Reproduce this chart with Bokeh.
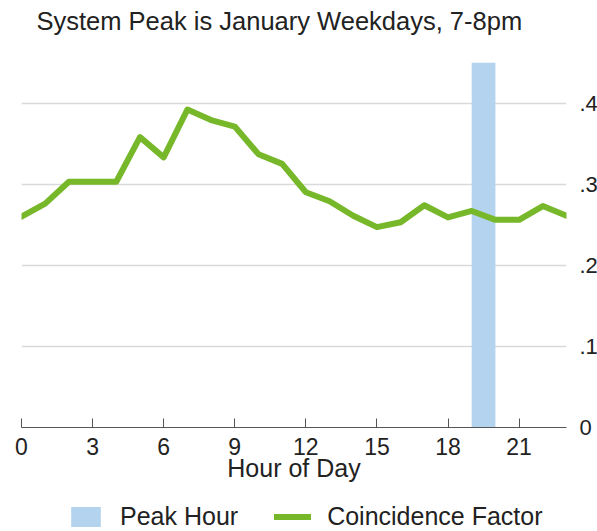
from bokeh.plotting import figure
from bokeh.models import FixedTicker, Legend, LegendItem, Range1d, Label
from bokeh.layouts import column
from bokeh.embed import file_html
from bokeh.resources import INLINE

# ---- data ----
hours = list(range(24))
coincidence = [0.260, 0.276, 0.303, 0.303, 0.303, 0.358, 0.333, 0.392,
               0.379, 0.371, 0.337, 0.325, 0.290, 0.279, 0.261, 0.247,
               0.253, 0.274, 0.259, 0.267, 0.256, 0.256, 0.273, 0.261]
peak_start = [19]
peak_end = [20]
peak_bottom = [0]
peak_top = [0.45]
x_ticks = [0, 3, 6, 9, 12, 15, 18, 21]
y_ticks = [0, 0.1, 0.2, 0.3, 0.4]
y_tick_labels = ["0", ".1", ".2", ".3", ".4"]
grid_ticks = [0.1, 0.2, 0.3, 0.4]
title_text = "System Peak is January Weekdays, 7-8pm"
x_label = "Hour of Day"
series_names = ["Peak Hour", "Coincidence Factor"]

FONT = "Liberation Sans"
TEXT = "#222222"
GREEN = "#76B82A"
BLUE = "#B3D3EE"
W = 592

# ---- title strip ----
tf = figure(width=W, height=62, x_range=Range1d(0, 1), y_range=Range1d(0, 1),
            x_axis_location=None, y_axis_location=None, output_backend="svg",
            toolbar_location=None, min_border=0)
tf.outline_line_color = None
tf.grid.visible = False
tf.add_layout(Label(x=15, y=42, x_units="screen", y_units="screen", text=title_text,
                    text_font=FONT, text_font_size="25.5px", text_color=TEXT,
                    text_baseline="alphabetic", text_align="left"))

# ---- main chart ----
p = figure(frame_width=545, frame_height=365, x_range=Range1d(0, 23), y_range=Range1d(0, 0.45),
           y_axis_location="right", output_backend="svg", toolbar_location=None,
           min_border_left=21, min_border_right=0, min_border_top=0, min_border_bottom=57)
p.outline_line_color = None

xa = p.xaxis[0]
xa.ticker = FixedTicker(ticks=x_ticks)
xa.major_tick_in = 9
xa.major_tick_out = 0
xa.minor_tick_line_color = None
xa.axis_line_color = "#555555"
xa.major_tick_line_color = "#555555"
xa.major_label_text_font = FONT
xa.major_label_text_font_size = "23px"
xa.major_label_text_color = TEXT
xa.major_label_standoff = 10
xa.axis_label = x_label
xa.axis_label_text_font = FONT
xa.axis_label_text_font_size = "25px"
xa.axis_label_text_font_style = "normal"
xa.axis_label_text_color = TEXT
xa.axis_label_standoff = -4

ya = p.yaxis[0]
ya.ticker = FixedTicker(ticks=y_ticks)
ya.major_label_overrides = dict(zip(y_ticks, y_tick_labels))
ya.axis_line_color = None
ya.major_tick_line_color = None
ya.minor_tick_line_color = None
ya.major_label_text_font = FONT
ya.major_label_text_font_size = "22px"
ya.major_label_text_color = TEXT
ya.major_label_standoff = 7

p.xgrid.visible = False
p.ygrid.ticker = FixedTicker(ticks=grid_ticks)
p.ygrid.grid_line_color = "#d9d9d9"
p.ygrid.grid_line_width = 1.5

p.quad(left=peak_start, right=peak_end, bottom=peak_bottom, top=peak_top,
       fill_color=BLUE, line_color=None)
p.line(hours, coincidence, line_color=GREEN, line_width=6,
       line_join="round", line_cap="round")

# ---- legend strip (same series, kept out of its view; only the legend shows) ----
lf = figure(width=W, height=47, x_range=Range1d(100, 101), y_range=Range1d(100, 101),
            x_axis_location=None, y_axis_location=None, output_backend="svg",
            toolbar_location=None, min_border=0)
lf.outline_line_color = None
lf.grid.visible = False
lg_bar = lf.quad(left=peak_start, right=peak_end, bottom=peak_bottom, top=peak_top,
                 fill_color=BLUE, line_color=None)
lg_line = lf.line(hours, coincidence, line_color=GREEN, line_width=6, line_cap="round")
legend = Legend(items=[LegendItem(label=series_names[0], renderers=[lg_bar]),
                       LegendItem(label=series_names[1], renderers=[lg_line])],
                orientation="horizontal", location=(46, 0),
                border_line_color=None, background_fill_alpha=0,
                label_text_font=FONT, label_text_font_size="25px", label_text_color=TEXT,
                glyph_width=37, glyph_height=25, spacing=36, label_standoff=16,
                padding=0, margin=0)
lf.add_layout(legend)

layout = column(tf, p, lf, spacing=0)
open("out.html", "w").write(file_html(layout, INLINE))
